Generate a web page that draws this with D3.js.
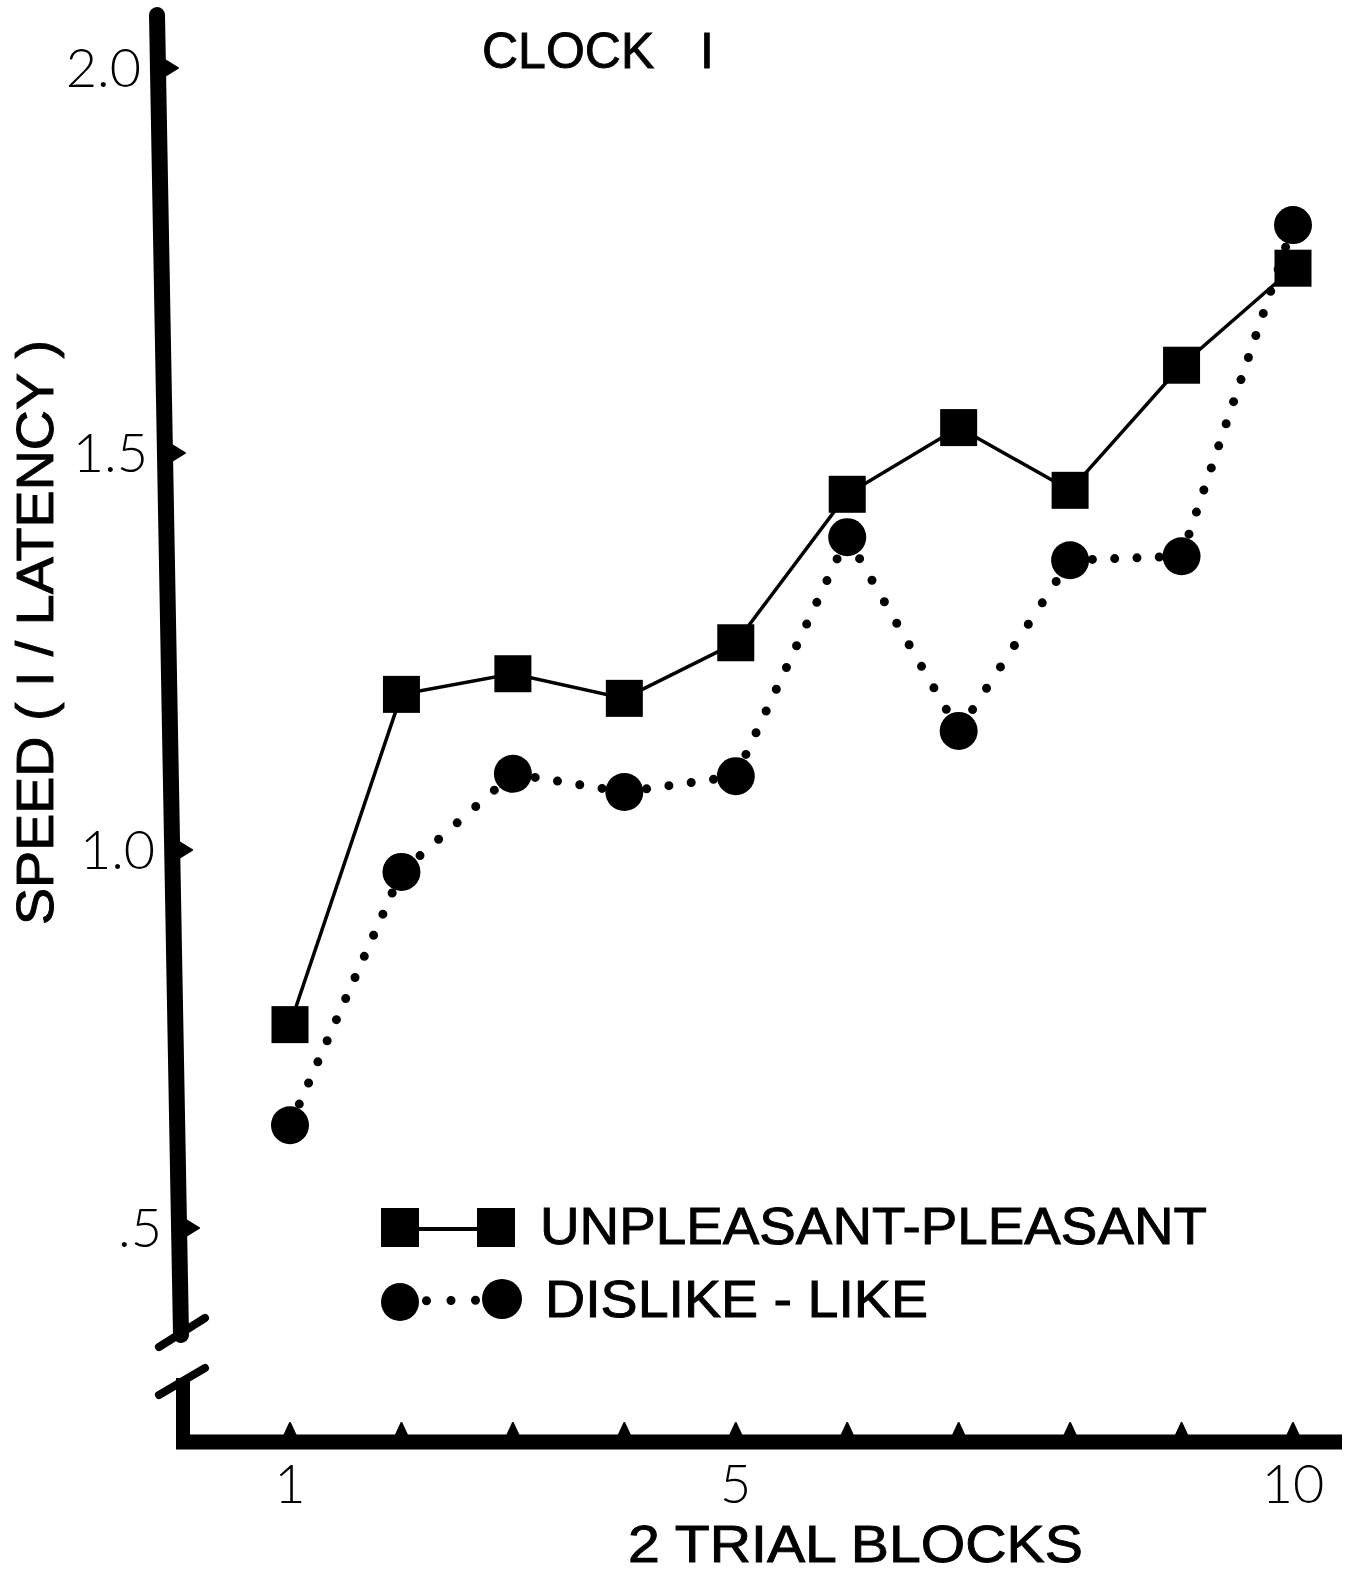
<!DOCTYPE html>
<html>
<head>
<meta charset="utf-8">
<script src="https://cdn.jsdelivr.net/npm/d3@7"></script>
<style>
  body { margin: 0; background: #fff; }
  svg { display: block; }
  .lbl { font-family: "Liberation Sans", Arial, sans-serif; fill: #000; stroke: #000; stroke-width: 0.9px; }
  .tick-lbl { font-family: Lato, "DejaVu Sans", sans-serif; font-weight: 300; fill: #000; }
</style>
</head>
<body>
<svg id="chart"></svg>
<script>
const width = 1349, height = 1572;

// data
const blocks = [1, 2, 3, 4, 5, 6, 7, 8, 9, 10];
const unpleasantPleasant = [0.769, 1.196, 1.222, 1.191, 1.261, 1.448, 1.533, 1.453, 1.614, 1.740];
const dislikeLike = [0.636, 0.971, 1.096, 1.073, 1.093, 1.394, 1.150, 1.365, 1.370, 1.796];
const yTicks = [0.5, 1.0, 1.5, 2.0];
const yTickLabels = [".5", "1.0", "1.5", "2.0"];
const xTickLabels = ["1", "", "", "", "5", "", "", "", "", "10"];
const legendNames = ["UNPLEASANT-PLEASANT", "DISLIKE - LIKE"];

const svg = d3.select("#chart")
    .attr("width", width)
    .attr("height", height);

svg.append("rect").attr("width", width).attr("height", height).attr("fill", "#fff");

const x = d3.scaleLinear().domain([1, 10]).range([290, 1293]);
// hand-drawn axis: tick spacing is not quite even
const y = d3.scaleLinear().domain([0.5, 1.0, 1.5, 2.0]).range([1228, 850, 453, 68]);
// the vertical axis leans slightly to the right going down
const axisX = d3.scaleLinear().domain([15, 1335]).range([157, 181]);

// ---- axes ----
svg.append("line")
    .attr("x1", axisX(15)).attr("y1", 15)
    .attr("x2", axisX(1335)).attr("y2", 1335)
    .attr("stroke", "#000").attr("stroke-width", 16).attr("stroke-linecap", "round");

// lower piece below the break
svg.append("line")
    .attr("x1", 183).attr("y1", 1378)
    .attr("x2", 183).attr("y2", 1449)
    .attr("stroke", "#000").attr("stroke-width", 14);

// break marks
[[1347, 1318], [1395, 1368]].forEach(([ya, yb]) => {
    svg.append("line")
        .attr("x1", 159).attr("y1", ya)
        .attr("x2", 205).attr("y2", yb)
        .attr("stroke", "#000").attr("stroke-width", 8).attr("stroke-linecap", "round");
});

// x axis
svg.append("line")
    .attr("x1", 176).attr("y1", 1442)
    .attr("x2", 1342).attr("y2", 1442)
    .attr("stroke", "#000").attr("stroke-width", 15);

// y tick bumps + labels
yTicks.forEach((t, i) => {
    const yy = y(t), x0 = axisX(yy) + 7;
    svg.append("path")
        .attr("d", `M${x0},${yy - 8} L${x0 + 13},${yy} L${x0},${yy + 8} Z`)
        .attr("fill", "#000").attr("stroke", "#000").attr("stroke-width", 2).attr("stroke-linejoin", "round");
    svg.append("text")
        .attr("class", "tick-lbl")
        .attr("x", axisX(yy) - 17)
        .attr("y", yy)
        .attr("dy", "0.36em")
        .attr("text-anchor", "end")
        .style("font-size", "54px")
        .text(yTickLabels[i]);
});

// x tick bumps + labels
blocks.forEach((b, i) => {
    const xx = x(b);
    svg.append("path")
        .attr("d", `M${xx - 6},${1436} L${xx},${1423} L${xx + 6},${1436} Z`)
        .attr("fill", "#000").attr("stroke", "#000").attr("stroke-width", 2).attr("stroke-linejoin", "round");
    if (xTickLabels[i]) {
        svg.append("text")
            .attr("class", "tick-lbl")
            .attr("x", xx)
            .attr("y", 1503)
            .attr("text-anchor", "middle")
            .style("font-size", "54px")
            .text(xTickLabels[i]);
    }
});

// ---- titles ----
const title = svg.append("text").attr("class", "lbl")
    .attr("x", 482).attr("y", 68)
    .style("font-size", "50px");
title.append("tspan").text("CLOCK ");
title.append("tspan").attr("x", 700).text("I");

svg.append("text").attr("class", "lbl")
    .attr("transform", "translate(53,925) rotate(-90)")
    .attr("textLength", 585).attr("lengthAdjust", "spacingAndGlyphs")
    .style("font-size", "52px")
    .text("SPEED ( I / LATENCY )");

svg.append("text").attr("class", "lbl")
    .attr("x", 628).attr("y", 1562)
    .attr("textLength", 455).attr("lengthAdjust", "spacingAndGlyphs")
    .style("font-size", "51px")
    .text("2 TRIAL BLOCKS");

// ---- series ----
const sqPts = blocks.map((b, i) => [x(b), y(unpleasantPleasant[i])]);
const ciPts = blocks.map((b, i) => [x(b), y(dislikeLike[i])]);

// dotted segments: each one restarts its dot pattern so dots sit evenly between markers
function dottedSegment(g, a, b) {
    const len = Math.hypot(b[0] - a[0], b[1] - a[1]);
    const n = Math.max(1, Math.round(len / 24));
    g.append("line")
        .attr("x1", a[0]).attr("y1", a[1])
        .attr("x2", b[0]).attr("y2", b[1])
        .attr("stroke", "#000").attr("stroke-width", 9)
        .attr("stroke-linecap", "round")
        .attr("stroke-dasharray", `0 ${len / n}`);
}

const gDot = svg.append("g");
for (let i = 1; i < ciPts.length; i++) dottedSegment(gDot, ciPts[i - 1], ciPts[i]);

svg.append("path")
    .attr("d", d3.line()(sqPts))
    .attr("fill", "none").attr("stroke", "#000").attr("stroke-width", 3.5);

svg.append("g").selectAll("circle")
    .data(ciPts).enter().append("circle")
    .attr("cx", d => d[0]).attr("cy", d => d[1]).attr("r", 19)
    .attr("fill", "#000");

svg.append("g").selectAll("rect")
    .data(sqPts).enter().append("rect")
    .attr("x", d => d[0] - 18.5).attr("y", d => d[1] - 18.5)
    .attr("width", 37).attr("height", 37)
    .attr("fill", "#000");

// ---- legend ----
const leg = svg.append("g");
leg.append("line")
    .attr("x1", 400).attr("y1", 1229).attr("x2", 496).attr("y2", 1229)
    .attr("stroke", "#000").attr("stroke-width", 4);
[400, 496].forEach(cx => {
    leg.append("rect")
        .attr("x", cx - 19).attr("y", 1208)
        .attr("width", 38).attr("height", 39)
        .attr("fill", "#000");
});
dottedSegment(leg, [402, 1301], [500, 1300]);
leg.append("circle").attr("cx", 400).attr("cy", 1302).attr("r", 19).attr("fill", "#000");
leg.append("circle").attr("cx", 502).attr("cy", 1299).attr("r", 20).attr("fill", "#000");

leg.append("text").attr("class", "lbl")
    .attr("x", 540).attr("y", 1244)
    .attr("textLength", 667).attr("lengthAdjust", "spacingAndGlyphs")
    .style("font-size", "51px")
    .text(legendNames[0]);
leg.append("text").attr("class", "lbl")
    .attr("x", 545).attr("y", 1317)
    .attr("textLength", 383).attr("lengthAdjust", "spacingAndGlyphs")
    .style("font-size", "51px")
    .text(legendNames[1]);
</script>
</body>
</html>
